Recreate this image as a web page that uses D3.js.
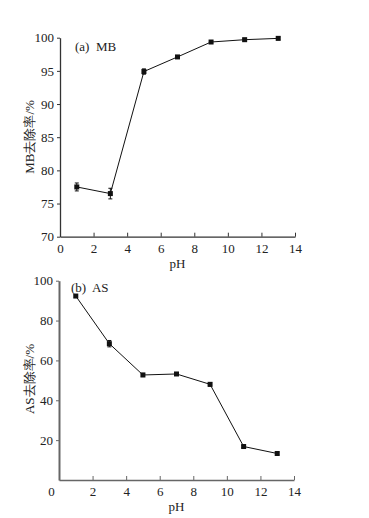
<!DOCTYPE html>
<html><head><meta charset="utf-8">
<script src="https://cdn.jsdelivr.net/npm/d3@7"></script>
<style>body{margin:0;background:#fff}text{font-family:"Liberation Serif","DejaVu Serif",serif;fill:#222}</style>
</head><body>
<svg id="c" width="369" height="518"></svg>
<script>
const pH = [1, 3, 5, 7, 9, 11, 13];
const mbValues = [77.5, 76.5, 94.9, 97.1, 99.35, 99.7, 99.9];
const mbErrors = [0.6, 0.8, 0.4, 0.2, 0.2, 0.2, 0.2];
const asValues = [92.3, 68.4, 52.7, 53.2, 48.0, 16.8, 13.3];
const asErrors = [0.6, 1.6, 0.8, 0.6, 0.9, 0.5, 0.6];
const xTicks = [0, 2, 4, 6, 8, 10, 12, 14];
const mbTicks = [70, 75, 80, 85, 90, 95, 100];
const asTicks = [20, 40, 60, 80, 100];

const svg = d3.select("#c");

function panel(o) {
  const g = svg.append("g");
  const x = d3.scaleLinear().domain([0, 14]).range([o.x0, o.x1]);
  const y = d3.scaleLinear().domain(o.ydom).range([o.y0, o.y1]);
  // x axis
  const xa = g.append("g").attr("transform", `translate(0,${o.y0})`)
    .call(d3.axisBottom(x).tickValues(xTicks).tickSizeInner(-4).tickSizeOuter(0).tickPadding(7));
  xa.selectAll("text").attr("font-size", 13).attr("dy", "0.71em")
    .attr("dx", d => (d === 0 && o.zeroShift) ? o.zeroShift : 0);
  xa.select(".domain").attr("stroke", o.axisColor).attr("stroke-width", 1.3);
  xa.selectAll(".tick line").attr("stroke", o.axisColor);
  // y axis
  const ya = g.append("g").attr("transform", `translate(${o.x0},0)`)
    .call(d3.axisLeft(y).tickValues(o.yticks).tickSizeInner(3).tickSizeOuter(0).tickPadding(3));
  ya.selectAll("text").attr("font-size", 13);
  ya.select(".domain").attr("stroke", o.axisColor).attr("stroke-width", o.yAxisWidth);
  ya.selectAll(".tick line").attr("stroke", o.axisColor);
  // line
  g.append("path").datum(o.values)
    .attr("fill", "none").attr("stroke", "#111").attr("stroke-width", 1)
    .attr("d", d3.line().x((d, i) => x(pH[i])).y(d => y(d)));
  // error bars
  const eb = g.append("g").attr("stroke", "#111").attr("stroke-width", 1);
  o.values.forEach((v, i) => {
    const e = o.errors[i];
    const cx = x(pH[i]);
    eb.append("line").attr("x1", cx).attr("x2", cx).attr("y1", y(v - e)).attr("y2", y(v + e));
    eb.append("line").attr("x1", cx - 2).attr("x2", cx + 2).attr("y1", y(v - e)).attr("y2", y(v - e));
    eb.append("line").attr("x1", cx - 2).attr("x2", cx + 2).attr("y1", y(v + e)).attr("y2", y(v + e));
  });
  // markers
  g.append("g").selectAll("rect").data(o.values).join("rect")
    .attr("x", (d, i) => x(pH[i]) - 2.5).attr("y", d => y(d) - 2.5)
    .attr("width", 5).attr("height", 5).attr("fill", "#111");
  // labels
  g.append("text").attr("x", o.tagX).attr("y", o.tagY).attr("font-size", 13)
    .attr("xml:space", "preserve").text(o.tag);
  g.append("text").attr("x", (o.x0 + o.x1) / 2).attr("y", o.y0 + 31).attr("font-size", 13)
    .attr("text-anchor", "middle").text("pH");
  g.append("text").attr("transform", `translate(34,${o.labelY}) rotate(-90)`)
    .attr("font-size", 13).attr("text-anchor", "middle").text(o.ylabel);
}

panel({x0: 60, x1: 295, y0: 236.7, y1: 37.7, ydom: [70, 100], yticks: mbTicks,
  values: mbValues, errors: mbErrors, tag: "(a)  MB", tagX: 75, tagY: 51,
  ylabel: "MB去除率/%", labelY: 137, axisColor: "#333", yAxisWidth: 1.3});
panel({x0: 59, x1: 294, y0: 480, y1: 280.7, ydom: [0, 100], yticks: asTicks,
  values: asValues, errors: asErrors, tag: "(b)  AS", tagX: 71, tagY: 292,
  ylabel: "AS去除率/%", labelY: 379, axisColor: "#666", yAxisWidth: 2, zeroShift: -8});
</script>
</body></html>
